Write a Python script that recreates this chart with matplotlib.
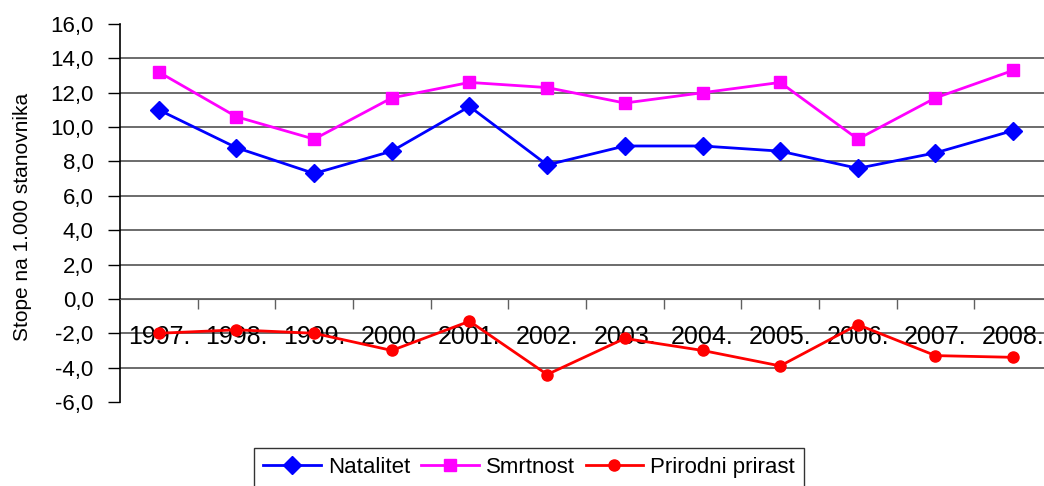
import matplotlib.pyplot as plt
from matplotlib.ticker import FuncFormatter, MultipleLocator

godine = ['1997.', '1998.', '1999.', '2000.', '2001.', '2002.',
          '2003.', '2004.', '2005.', '2006.', '2007.', '2008.']
natalitet = [11.0, 8.8, 7.3, 8.6, 11.2, 7.8, 8.9, 8.9, 8.6, 7.6, 8.5, 9.8]
smrtnost = [13.2, 10.6, 9.3, 11.7, 12.6, 12.3, 11.4, 12.0, 12.6, 9.3, 11.7, 13.3]
prirast = [-2.0, -1.8, -2.0, -3.0, -1.3, -4.4, -2.3, -3.0, -3.9, -1.5, -3.3, -3.4]

plt.rcParams['font.family'] = ['Liberation Sans', 'DejaVu Sans']

fig = plt.figure(figsize=(10.44, 4.86), dpi=100)
W, H = 1044, 486
ax = fig.add_axes([120 / W, (H - 402) / H, (1052 - 120) / W, (402 - 24) / H])

x = list(range(len(godine)))
l1, = ax.plot(x, natalitet, color='#0000FF', lw=2, marker='D', markersize=9, zorder=3)
l2, = ax.plot(x, smrtnost, color='#FF00FF', lw=2, marker='s', markersize=9, zorder=3)
l3, = ax.plot(x, prirast, color='#FF0000', lw=2, marker='o', markersize=8, zorder=3)

ax.set_xlim(-0.5, len(godine) - 0.5)
ax.set_ylim(-6, 16)

# horizontalne linije mreze
for v in range(-4, 16, 2):
    ax.axhline(v, color='#606060', lw=1.3, zorder=1)

ax.yaxis.set_major_locator(MultipleLocator(2))
ax.yaxis.set_major_formatter(FuncFormatter(lambda v, p: f'{v:.1f}'.replace('.', ',')))
ax.tick_params(axis='y', direction='out', length=9, width=1, labelsize=16, pad=10)

# kategorijska os na nuli
ax.spines['bottom'].set_position(('data', 0))
ax.spines['bottom'].set_color('#606060')
ax.spines['top'].set_visible(False)
ax.spines['right'].set_visible(False)
ax.spines['left'].set_linewidth(1.2)
ax.set_xticks(x)
ax.set_xticklabels(godine)
ax.set_xticks([i + 0.5 for i in x[:-1]], minor=True)
ax.tick_params(axis='x', which='major', length=0, labelsize=18, pad=19)
ax.tick_params(axis='x', which='minor', direction='out', length=7, width=1, color='#606060')

ax.set_ylabel('Stope na 1.000 stanovnika', fontsize=15)
ax.yaxis.set_label_coords((32 - 120) / 932, (402 - 217) / 378)

leg = fig.legend([l1, l2, l3], ['Natalitet', 'Smrtnost', 'Prirodni prirast'],
                 loc='upper center', bbox_to_anchor=(529 / W, 1 - 448 / H), ncol=3,
                 fontsize=16, frameon=True, fancybox=False, edgecolor='black',
                 handlelength=2.6, columnspacing=0.5, handletextpad=0.3,
                 borderpad=0.4, borderaxespad=0)
leg.get_frame().set_linewidth(1)

fig.savefig('out.png', dpi=100)
